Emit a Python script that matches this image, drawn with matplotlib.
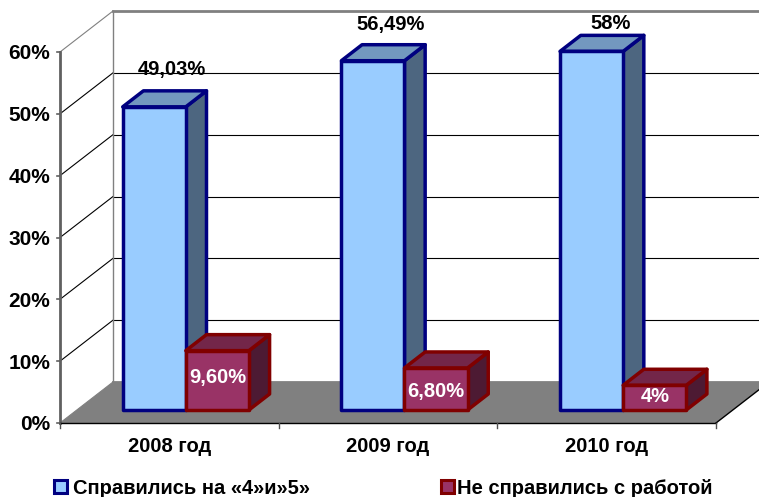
import numpy as np
import matplotlib
matplotlib.use('Agg')
from matplotlib import pyplot as plt
from matplotlib.patches import Polygon, Rectangle

plt.rcParams['font.family'] = ['Liberation Sans', 'DejaVu Sans']

categories = ['2008 год', '2009 год', '2010 год']
passed = [49.03, 56.49, 58]
failed = [9.6, 6.8, 4]
passed_labels = ['49,03%', '56,49%', '58%']
failed_labels = ['9,60%', '6,80%', '4%']
y_ticks = [0, 10, 20, 30, 40, 50, 60]
y_ticklabels = ['0%', '10%', '20%', '30%', '40%', '50%', '60%']
legend_names = ['Справились на «4»и»5»', 'Не справились с работой']

W, H = 759, 497
px_x = 656 / 3.0      # pixels per category
px_y = 371 / 60.0     # pixels per percent
depth_x = 53 / px_x   # full depth of the floor, in data units
depth_y = 41 / px_y

fig = plt.figure(figsize=(W / 100, H / 100), dpi=100)
ax = fig.add_axes([0, 0, 1, 1])
ax.set_xlim(-60 / px_x, (W - 60) / px_x)
ax.set_ylim((423 - H) / px_y, 423 / px_y)
ax.axis('off')


def proj(x, v, d=0.0):
    # oblique projection, d = 0 front of the chart, d = 1 back wall
    return (x + d * depth_x, v + d * depth_y)


def box(x0, x1, v, face, top, side, edge):
    d0, d1 = 13 / 41, 29 / 41
    pieces = [
        ([proj(x1, 0, d0), proj(x1, 0, d1), proj(x1, v, d1), proj(x1, v, d0)], side),
        ([proj(x0, v, d0), proj(x1, v, d0), proj(x1, v, d1), proj(x0, v, d1)], top),
        ([proj(x0, 0, d0), proj(x1, 0, d0), proj(x1, v, d0), proj(x0, v, d0)], face),
    ]
    for pts, col in pieces:
        ax.add_patch(Polygon(pts, closed=True, facecolor=col, edgecolor=edge,
                             linewidth=2.5, joinstyle='round', zorder=5))


# floor
ax.add_patch(Polygon([proj(0, 0), proj(3, 0), proj(3, 0, 1), proj(0, 0, 1)],
                     closed=True, facecolor='#808080', edgecolor='none', zorder=1))

# walls and grid
for t in y_ticks:
    col = '#808080' if t in (0, 60) else 'black'
    lw = 2 if t in (0, 60) else 0.8
    p0, p1, p2 = proj(0, t), proj(0, t, 1), proj(3, t, 1)
    ax.plot([p1[0], p2[0]], [p1[1], p2[1]], color=col, lw=lw, zorder=2)
    if t > 0:
        ax.plot([p0[0], p1[0]], [p0[1], p1[1]], color=col, lw=0.8, zorder=2)
    ax.plot([p0[0], p0[0] - 3 / px_x], [t, t], color='#606060', lw=1.2, zorder=3)
    ax.text(-10 / px_x, t - 2 / px_y, y_ticklabels[y_ticks.index(t)], ha='right', va='center',
            fontsize=15, fontweight='bold', color='black', zorder=6)

p0, p1 = proj(0, 60, 1), proj(0, 0, 1)
ax.plot([p0[0], p1[0]], [p0[1], p1[1]], color='#808080', lw=1, zorder=2)
ax.plot([0, 0], [0, 60], color='#606060', lw=2, zorder=3)

# front edge of floor
ax.plot([0, 3], [0, 0], color='black', lw=1, zorder=3)
ax.plot([0, depth_x], [0, depth_y], color='#808080', lw=0.8, zorder=2)
ax.plot([3, 3 + depth_x], [0, depth_y], color='black', lw=1, zorder=2)
for i in range(4):
    ax.plot([i, i], [0, -5 / px_y], color='#505050', lw=1, zorder=3)

# bars
for i in range(3):
    x0 = i + 0.21
    x1 = x0 + 0.2885
    x2 = x1 + 0.2885
    box(x0, x1, passed[i], '#99CCFF', '#7398BF', '#4D6680', '#000080')
    box(x1, x2, failed[i], '#993366', '#732649', '#4D1A33', '#800000')
    ax.text(i + 0.5, -24 / px_y, categories[i], ha='center', va='center',
            fontsize=14.5, fontweight='bold', zorder=6)

# data labels
passed_up = [37, 36, 28]
passed_right = [0, 0, 2]
failed_mid = [32, 18, 14]
for i in range(3):
    ax.text(i + 0.51 + passed_right[i] / px_x, passed[i] + (13 + passed_up[i]) / px_y, passed_labels[i],
            ha='center', va='center', fontsize=14.5, fontweight='bold', color='black', zorder=6)
    ax.text(i + 0.72, (13 + failed_mid[i]) / px_y, failed_labels[i],
            ha='center', va='center', fontsize=14.5, fontweight='bold', color='white', zorder=6)

# legend
leg_x = [54, 441]
leg_text_x = [73, 457]
leg_cols = [('#99CCFF', '#000080'), ('#993366', '#800000')]
for name, lx, tx, (fc, ec) in zip(legend_names, leg_x, leg_text_x, leg_cols):
    ax.add_patch(Rectangle(((lx - 60) / px_x, (423 - 493) / px_y), 13 / px_x, 13 / px_y,
                           facecolor=fc, edgecolor=ec, linewidth=2.2, zorder=6))
    ax.text((tx - 60) / px_x, (423 - 488) / px_y, name, ha='left', va='center',
            fontsize=14.5, fontweight='bold', zorder=6)

fig.savefig('out.png', dpi=100)
